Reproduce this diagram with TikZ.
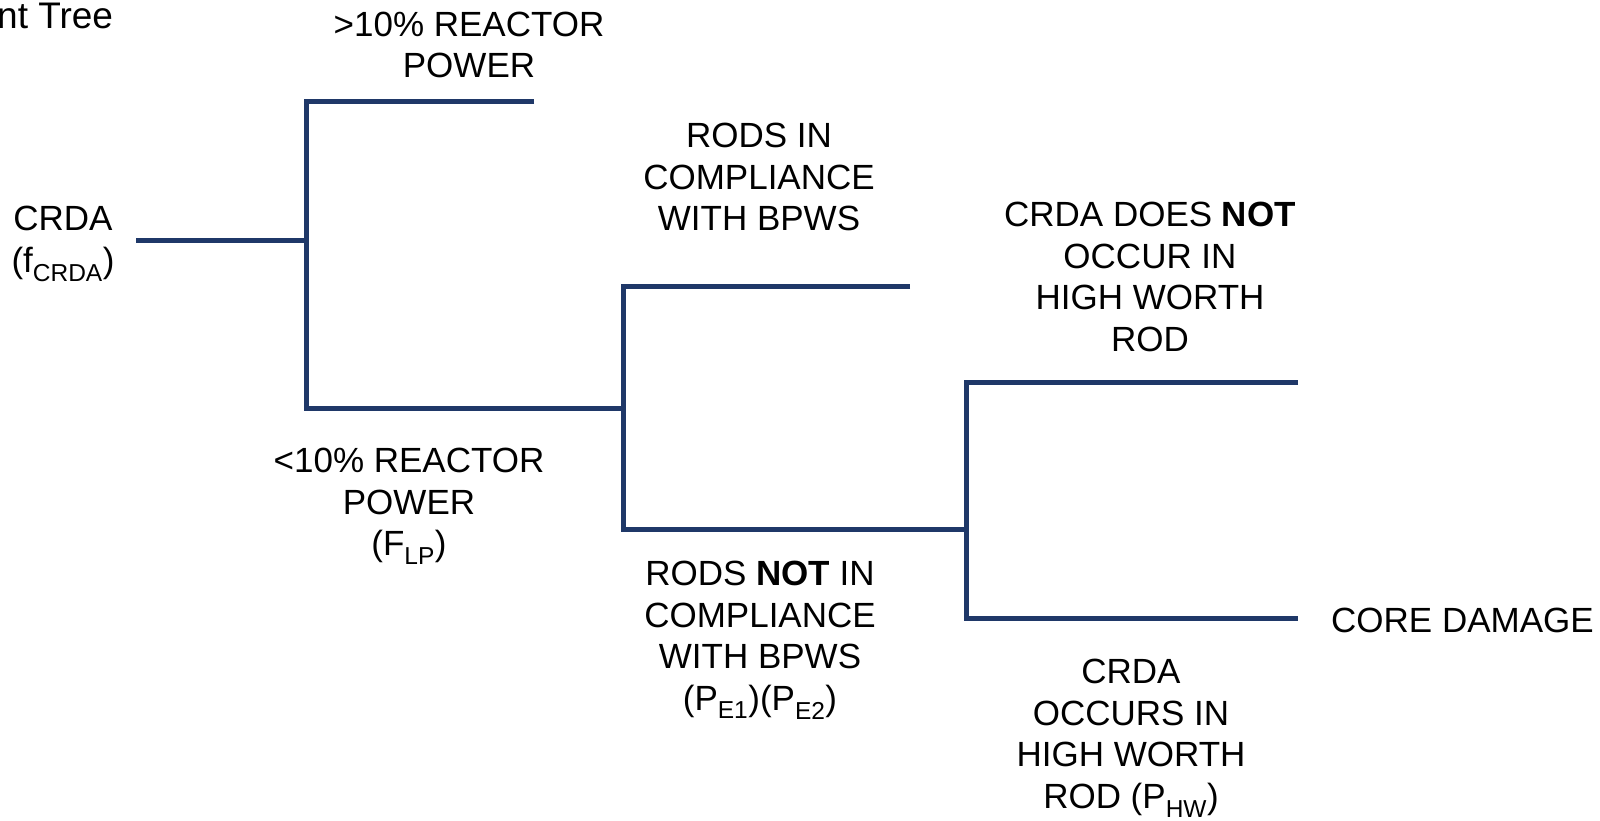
\documentclass[tikz,border=0pt]{standalone}
\usepackage{fontspec}
\setmainfont{Liberation Sans}
\definecolor{navy}{RGB}{31,56,104}
\begin{document}
\begin{tikzpicture}[x=1pt,y=-1pt,
  br/.style={draw=navy,line width=5pt,line join=miter},
  lbl/.style={inner sep=0pt,align=center,font=\fontsize{35}{41.8}\selectfont,text=black}]
\useasboundingbox (0,0) rectangle (1600,821);
% tree coordinates
\coordinate (c0) at (136,240);
\coordinate (j1) at (306,240);
\coordinate (t1) at (306,102);
\coordinate (t2) at (534,102);
\coordinate (b1) at (306,408);
\coordinate (j2) at (623,408);
\coordinate (u1) at (623,286);
\coordinate (u2) at (910,286);
\coordinate (d1) at (623,529);
\coordinate (j3) at (966,529);
\coordinate (v1) at (966,382);
\coordinate (v2) at (1298,382);
\coordinate (w1) at (966,618);
\coordinate (w2) at (1298,618);
% branches
\draw[br] (c0) -- (j1);
\draw[br] (t2) -- (t1) -- (b1) -- (j2);
\draw[br] (u2) -- (u1) -- (d1) -- (j3);
\draw[br] (v2) -- (v1) -- (w1) -- (w2);
% labels
\node[lbl,anchor=west,font=\fontsize{37}{44}\selectfont] (title) at (-3,16) {nt Tree};
\node[lbl] (hi) at (469,45) {>10\% REACTOR\\POWER};
\node[lbl] (crda) at (63,244) {CRDA\\(f\textsubscript{CRDA})};
\node[lbl] (rin) at (759,177) {RODS IN\\COMPLIANCE\\WITH BPWS};
\node[lbl] (dnot) at (1150,277) {CRDA DOES \textbf{NOT}\\OCCUR IN\\HIGH WORTH\\ROD};
\node[lbl] (lo) at (409,506) {<10\% REACTOR\\POWER\\(F\textsubscript{LP})};
\node[lbl] (rnot) at (760,640) {RODS \textbf{NOT} IN\\COMPLIANCE\\WITH BPWS\\(P\textsubscript{E1})(P\textsubscript{E2})};
\node[lbl] (occ) at (1131,738) {CRDA\\OCCURS IN\\HIGH WORTH\\ROD (P\textsubscript{HW})};
\node[lbl,anchor=west] (core) at (1331,620) {CORE DAMAGE};
\end{tikzpicture}
\end{document}
